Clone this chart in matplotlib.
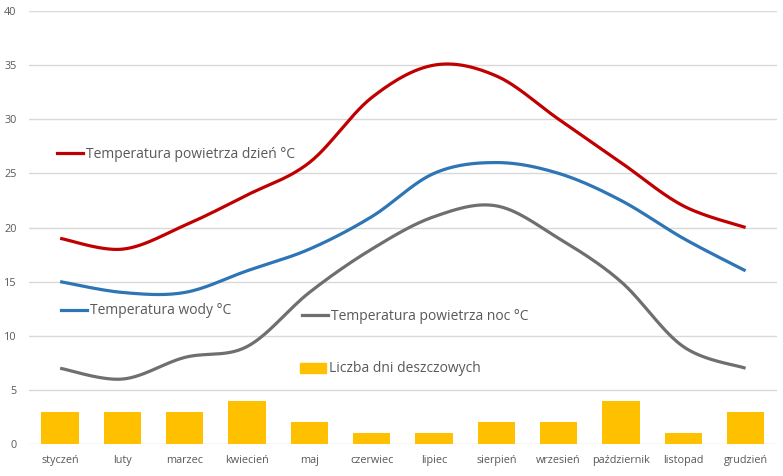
import numpy as np
import matplotlib
matplotlib.use("Agg")
import matplotlib.pyplot as plt
from matplotlib.lines import Line2D
from matplotlib.patches import Patch

months = ["styczeń", "luty", "marzec", "kwiecień", "maj", "czerwiec", "lipiec",
          "sierpień", "wrzesień", "październik", "listopad", "grudzień"]
temp_day = [19, 18, 20.2, 23, 26, 32, 35, 34, 30, 26, 22, 20]
temp_water = [15, 14, 14, 16, 18, 21, 25, 26, 25, 22.5, 19, 16]
temp_night = [7, 6, 8, 9, 14, 18, 21, 22, 19, 15, 9, 7]
rain_days = [3, 3, 3, 4, 2, 1, 1, 2, 2, 4, 1, 3]

label_day = "Temperatura powietrza dzień °C"
label_water = "Temperatura wody °C"
label_night = "Temperatura powietrza noc °C"
label_rain = "Liczba dni deszczowych"

c_day = "#C00000"
c_water = "#2E75B6"
c_night = "#6F6F6F"
c_rain = "#FFC000"
txt = "#595959"

plt.rcParams['font.family'] = ['Open Sans', 'DejaVu Sans']


def smooth(xs, ys, n=30):
    # Excel-like Bezier smoothing through data points
    P = np.column_stack([xs, ys]).astype(float)
    m = len(P)
    out = []
    t = np.linspace(0, 1, n)[:, None]
    for i in range(m - 1):
        p0 = P[max(i - 1, 0)]
        p1 = P[i]
        p2 = P[i + 1]
        p3 = P[min(i + 2, m - 1)]
        c1 = p1 + (p2 - p0) / 6.0
        c2 = p2 - (p3 - p1) / 6.0
        seg = ((1 - t) ** 3) * p1 + 3 * ((1 - t) ** 2) * t * c1 + 3 * (1 - t) * t ** 2 * c2 + t ** 3 * p2
        out.append(seg if i == 0 else seg[1:])
    out = np.vstack(out)
    return out[:, 0], out[:, 1]


fig = plt.figure(figsize=(7.83, 4.76), dpi=100)
ax = fig.add_axes([0.037, 0.0672, 0.955, 0.9097])

x = np.arange(len(months))
ax.bar(x, rain_days, width=0.6, color=c_rain, zorder=2)
for vals, col in [(temp_night, c_night), (temp_water, c_water), (temp_day, c_day)]:
    sx, sy = smooth(x, vals)
    ax.plot(sx, sy, color=col, lw=2.3, solid_capstyle='butt', zorder=3)

ax.set_xlim(-0.5, len(months) - 0.5)
ax.set_ylim(0, 40)
ax.set_yticks(range(0, 41, 5))
ax.set_xticks(x)
ax.set_xticklabels(months)
ax.tick_params(axis='both', length=0, colors=txt, labelsize=7.8)
ax.tick_params(axis='y', pad=9)
ax.tick_params(axis='x', pad=8)
ax.grid(axis='y', color="#D9D9D9", lw=1, zorder=0)
ax.set_axisbelow(True)
for s in ax.spines.values():
    s.set_visible(False)

fs = 10
common = dict(frameon=False, fontsize=fs, handlelength=1.9, handletextpad=0.2,
              borderpad=0, borderaxespad=0, loc='center left')

def axfrac(px, py):
    # convert figure pixel coordinates to axes fraction
    bb = ax.get_position()
    fx = px / 783.0
    fy = 1 - py / 476.0
    return ((fx - bb.x0) / bb.width, (fy - bb.y0) / bb.height)

legs = [
    ([Line2D([], [], color=c_day, lw=2.3)], [label_day], axfrac(57, 154)),
    ([Line2D([], [], color=c_water, lw=2.3)], [label_water], axfrac(61, 311)),
    ([Line2D([], [], color=c_night, lw=2.3)], [label_night], axfrac(302, 316)),
    ([Patch(color=c_rain)], [label_rain], axfrac(300, 369)),
]
for h, l, pos in legs:
    lg = ax.legend(h, l, bbox_to_anchor=pos, **common)
    for t in lg.get_texts():
        t.set_color(txt)
    ax.add_artist(lg)
ax.legend_ = None

fig.savefig("out.png", dpi=100, facecolor="white")
